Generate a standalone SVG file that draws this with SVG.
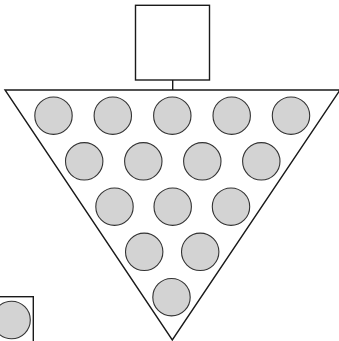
<svg xmlns="http://www.w3.org/2000/svg" width="339" height="341" viewBox="0 0 339 341">
<style>
.box{fill:#fff;stroke:#1a1a1a;stroke-width:1.4}
.tri{fill:#fff;stroke:#1a1a1a;stroke-width:1.4;stroke-linejoin:miter}
.ball{fill:#d3d3d3;stroke:#333;stroke-width:1.1}
.link{stroke:#1a1a1a;stroke-width:1.4;fill:none}
</style>
<rect width="339" height="341" fill="#fff"/>
<g id="connectors">
<line class="link" x1="172.7" y1="80" x2="172.7" y2="90"/>
</g>
<g id="top-box">
<rect class="box" x="135.5" y="5.3" width="74" height="74.7"/>
</g>
<g id="funnel">
<polygon class="tri" points="5,90 340,90 172.3,340"/>
</g>
<g id="balls">
<circle class="ball" cx="53.5" cy="115.7" r="18.7"/>
<circle class="ball" cx="112.8" cy="115.7" r="18.7"/>
<circle class="ball" cx="172.3" cy="115.7" r="18.7"/>
<circle class="ball" cx="231.7" cy="115.7" r="18.7"/>
<circle class="ball" cx="291" cy="115.7" r="18.7"/>
<circle class="ball" cx="84.2" cy="161.3" r="18.7"/>
<circle class="ball" cx="143.3" cy="161.3" r="18.7"/>
<circle class="ball" cx="202.3" cy="161.3" r="18.7"/>
<circle class="ball" cx="261.3" cy="161.3" r="18.7"/>
<circle class="ball" cx="114.5" cy="206.7" r="18.7"/>
<circle class="ball" cx="172.7" cy="206.7" r="18.7"/>
<circle class="ball" cx="231" cy="206.7" r="18.7"/>
<circle class="ball" cx="144.2" cy="251.8" r="18.7"/>
<circle class="ball" cx="200.2" cy="251.8" r="18.7"/>
<circle class="ball" cx="171.5" cy="297.2" r="18.7"/>
</g>
<g id="bottom-box">
<rect class="box" x="-20" y="296.7" width="53.3" height="60"/>
<circle class="ball" cx="11.5" cy="320" r="18.8"/>
</g>
</svg>
